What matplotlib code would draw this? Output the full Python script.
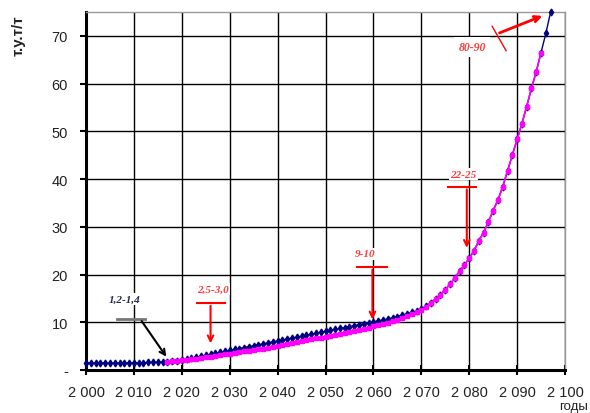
import matplotlib
matplotlib.use("Agg")
import matplotlib.pyplot as plt
from matplotlib.ticker import FixedLocator

# ---- data ----
years_blue = list(range(2000, 2098))
values_blue = [1.5, 1.5, 1.4, 1.5, 1.5, 1.4, 1.5, 1.4, 1.5, 1.5,
               1.5, 1.5, 1.5, 1.6, 1.6, 1.6, 1.7, 1.7, 1.8, 1.9,
               2.1, 2.3, 2.5, 2.7, 2.9, 3.1, 3.3, 3.5, 3.7, 3.9,
               4.1, 4.3, 4.5, 4.7, 4.9, 5.1, 5.3, 5.5, 5.7, 5.9,
               6.1, 6.3, 6.5, 6.7, 6.9, 7.1, 7.3, 7.5, 7.7, 7.9,
               8.1, 8.3, 8.5, 8.7, 8.9, 9.1, 9.3, 9.5, 9.7, 9.9,
               10.1, 10.3, 10.5, 10.7, 10.9, 11.2, 11.5, 11.8, 12.1, 12.4,
               12.8, 13.4, 14.1, 14.9, 15.8, 16.8, 18.0, 19.3, 20.7, 22.0,
               23.4, 25.0, 27.0, 28.8, 31.0, 33.4, 35.6, 38.4, 41.7, 45.0,
               48.3, 51.6, 55.2, 59.0, 62.5, 66.5, 70.5, 75.0]

years_pink = list(range(2017, 2096))
values_pink = [1.7, 1.8, 1.9, 2.0,
               2.1, 2.2, 2.4, 2.5, 2.7, 2.8, 3.0, 3.1, 3.3, 3.4,
               3.6, 3.7, 3.9, 4.0, 4.2, 4.4, 4.5, 4.7, 4.8, 5.0,
               5.2, 5.4, 5.6, 5.8, 6.0, 6.2, 6.4, 6.6, 6.8, 7.0,
               7.2, 7.4, 7.6, 7.8, 8.0, 8.2, 8.4, 8.6, 8.9, 9.2,
               9.4, 9.6, 9.9, 10.2, 10.5, 10.9, 11.3, 11.7, 12.1, 12.6,
               13.2, 14.0, 14.9, 15.8, 16.8, 18.0, 19.3, 20.7, 22.0, 23.4,
               25.0, 27.0, 28.8, 31.0, 33.4, 35.6, 38.4, 41.7, 45.0, 48.3,
               51.6, 55.2, 59.0, 62.5, 66.5]

xticks = [2000, 2010, 2020, 2030, 2040, 2050, 2060, 2070, 2080, 2090, 2100]
xtick_labels = ["2 000", "2 010", "2 020", "2 030", "2 040", "2 050",
                "2 060", "2 070", "2 080", "2 090", "2 100"]
yticks = [0, 10, 20, 30, 40, 50, 60, 70]
ytick_labels = ["-", "10", "20", "30", "40", "50", "60", "70"]

# annotations: (text, text_x, text_y, bar_x0, bar_x1, bar_y, arrow_to_x, arrow_to_y)
ann_labels = ["2,5-3,0", "9-10", "22-25"]
ann_text_x = [2026.5, 2058.3, 2078.8]
ann_text_y = [17.0, 24.3, 41.0]
ann_bar_x0 = [2023.2, 2056.6, 2075.6]
ann_bar_x1 = [2029.0, 2062.8, 2081.4]
ann_bar_y = [14.0, 21.6, 38.4]
ann_arrow_x = [2026.0, 2059.8, 2079.5]
ann_arrow_y = [5.0, 10.0, 25.0]

plt.rcParams['font.family'] = ['Liberation Sans Narrow', 'Liberation Sans', 'DejaVu Sans']

fig = plt.figure(figsize=(5.9, 4.14), dpi=100)
ax = fig.add_axes([0.1458, 0.1039, 0.8118, 0.8647])

ax.set_xlim(2000, 2100)
ax.set_ylim(0, 75)

ax.grid(True, color='black', linewidth=1.0, zorder=0)
ax.set_axisbelow(True)
ax.xaxis.set_major_locator(FixedLocator(xticks))
ax.yaxis.set_major_locator(FixedLocator(yticks))
ax.set_xticklabels(xtick_labels)
ax.set_yticklabels(ytick_labels)

for s in ['left', 'bottom']:
    ax.spines[s].set_linewidth(2.2)
    ax.spines[s].set_color('black')
for s in ['top', 'right']:
    ax.spines[s].set_linewidth(1.0)
    ax.spines[s].set_color('#999999')

ax.tick_params(axis='x', direction='inout', length=7, width=1.5, labelsize=10.5,
               pad=7, labelcolor='#222222')
ax.tick_params(axis='y', direction='out', length=4, width=1.5, labelsize=10.5,
               pad=9, labelcolor='#222222')

ax.plot(years_blue, values_blue, color='#000080', linewidth=1.0, marker='d',
        markersize=3.5, zorder=4, clip_on=False)
ax.plot(years_pink, values_pink, color='#ff00ff', linewidth=1.2, marker='s',
        markersize=3.0, zorder=5, clip_on=False)

# annotation for 1,2-1,4 (black/grey)
ax.text(2008.0, 14.9, "1,2-1,4", color='#1f2a55', fontsize=8, style='italic',
        fontweight='bold', family='Liberation Serif', ha='center', va='center',
        bbox=dict(facecolor='white', edgecolor='none', pad=1), zorder=6)
ax.plot([2006.5, 2012.3], [10.7, 10.7], color='#777777', linewidth=2, zorder=6)
ax.annotate("", xy=(2017.1, 2.3), xytext=(2011.3, 10.7),
            arrowprops=dict(arrowstyle='->', color='black', lw=1.5), zorder=6)

for lab, tx, ty, bx0, bx1, by, axx, ayy in zip(ann_labels, ann_text_x, ann_text_y,
                                               ann_bar_x0, ann_bar_x1, ann_bar_y,
                                               ann_arrow_x, ann_arrow_y):
    ax.text(tx, ty, lab, color='#ff3b3b', fontsize=8, style='italic',
            fontweight='bold', family='Liberation Serif', ha='center', va='center',
            bbox=dict(facecolor='white', edgecolor='none', pad=1), zorder=6)
    ax.plot([bx0, bx1], [by, by], color='red', linewidth=1.5, zorder=6)
    ax.annotate("", xy=(axx, ayy), xytext=(axx, by),
                arrowprops=dict(arrowstyle='->', color='red', lw=1.5), zorder=6)

# 80-90 annotation
ax.text(2080.6, 67.7, "80-90", color='#ff3b3b', fontsize=8.5, style='italic',
        fontweight='bold', family='Liberation Serif', ha='center', va='center',
        bbox=dict(facecolor='white', edgecolor='none', pad=3), zorder=6)
ax.plot([2084.8, 2087.7], [72.0, 66.9], color='red', linewidth=1.0, zorder=6)
ax.annotate("", xy=(2095.8, 74.4), xytext=(2085.8, 70.4),
            arrowprops=dict(arrowstyle='->', color='red', lw=2), zorder=6)

fig.text(0.031, 0.915, "т.у.т/т", rotation=90, fontsize=11, fontweight='bold',
         family='Liberation Sans', color='#222222', ha='center', va='center')
fig.text(0.997, 0.002, "годы", fontsize=9.5, color='#222222', ha='right',
         va='bottom')

fig.savefig("out.png", dpi=100)
